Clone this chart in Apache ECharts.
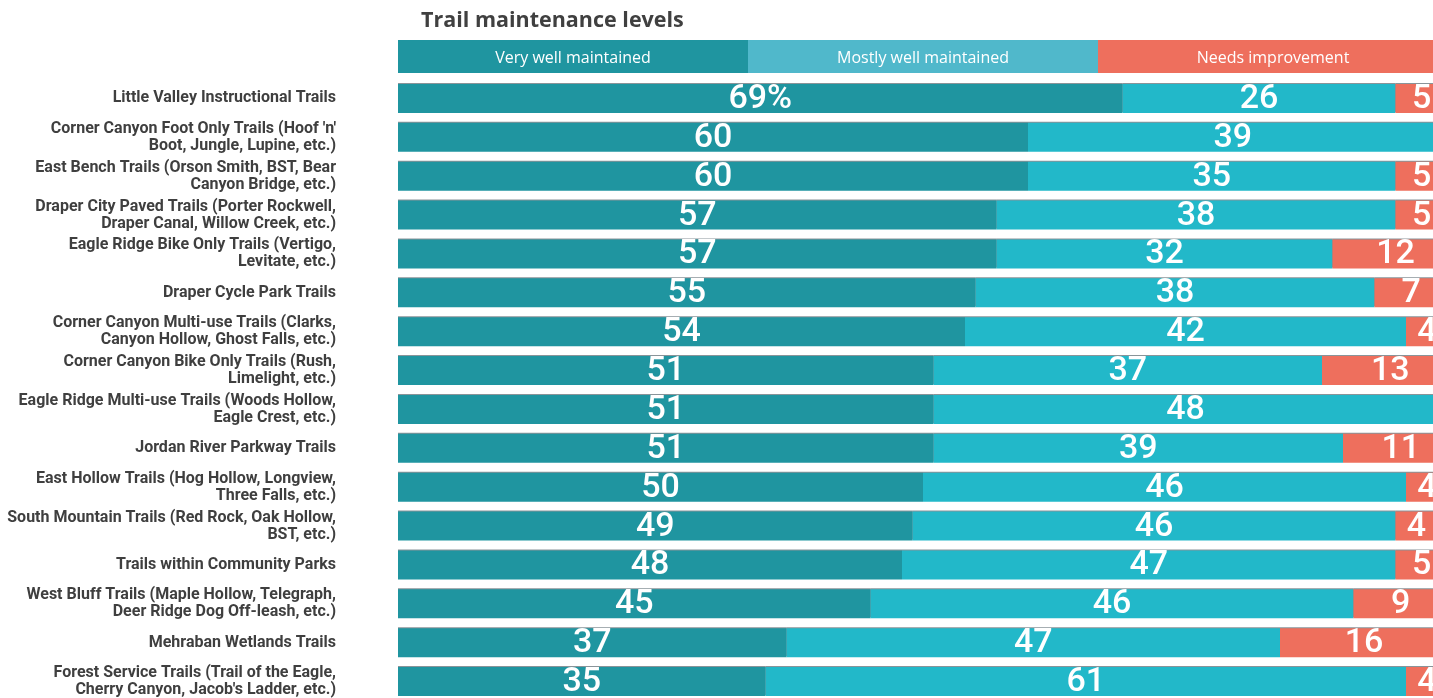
<!DOCTYPE html>
<html>
<head>
<meta charset="utf-8">
<script src="https://cdn.jsdelivr.net/npm/echarts@6/dist/echarts.min.js"></script>
<style>
  html, body { margin: 0; padding: 0; background: #ffffff; }
  #chart { width: 1433px; height: 698px; }
</style>
</head>
<body>
<div id="chart"></div>
<script>
// Trail names, top to bottom
const trails = [
  'Little Valley Instructional Trails',
  "Corner Canyon Foot Only Trails (Hoof 'n'\nBoot, Jungle, Lupine, etc.)",
  'East Bench Trails (Orson Smith, BST, Bear\nCanyon Bridge, etc.)',
  'Draper City Paved Trails (Porter Rockwell,\nDraper Canal, Willow Creek, etc.)',
  'Eagle Ridge Bike Only Trails (Vertigo,\nLevitate, etc.)',
  'Draper Cycle Park Trails',
  'Corner Canyon Multi-use Trails (Clarks,\nCanyon Hollow, Ghost Falls, etc.)',
  'Corner Canyon Bike Only Trails (Rush,\nLimelight, etc.)',
  'Eagle Ridge Multi-use Trails (Woods Hollow,\nEagle Crest, etc.)',
  'Jordan River Parkway Trails',
  'East Hollow Trails (Hog Hollow, Longview,\nThree Falls, etc.)',
  'South Mountain Trails (Red Rock, Oak Hollow,\nBST, etc.)',
  'Trails within Community Parks',
  'West Bluff Trails (Maple Hollow, Telegraph,\nDeer Ridge Dog Off-leash, etc.)',
  'Mehraban Wetlands Trails',
  "Forest Service Trails (Trail of the Eagle,\nCherry Canyon, Jacob's Ladder, etc.)"
];

// Percent of respondents per rating
const veryWell   = [69, 60, 60, 57, 57, 55, 54, 51, 51, 51, 50, 49, 48, 45, 37, 35];
const mostlyWell = [26, 39, 35, 38, 32, 38, 42, 37, 48, 39, 46, 46, 47, 46, 47, 61];
const needsImpr  = [5, 1, 5, 5, 12, 7, 4, 13, 1, 11, 4, 4, 5, 9, 16, 4];

const ratingNames = ['Very well maintained', 'Mostly well maintained', 'Needs improvement'];
const barColors = ['#1f95a0', '#22b8c9', '#ee6f5d'];
const headerColors = ['#1f95a0', '#50b8cb', '#ee6f5d'];

const chart = echarts.init(document.getElementById('chart'), null, { renderer: 'canvas' });

const valueLabel = (withPercentFirst) => ({
  show: true,
  position: 'inside',
  offset: [0, 1],
  color: '#ffffff',
  fontFamily: 'Roboto',
  fontWeight: 500,
  fontSize: 34,
  formatter: (p) => {
    if (p.value < 3) return '';
    return (withPercentFirst && p.dataIndex === 0) ? p.value + '%' : String(p.value);
  }
});

const barShadow = {
  shadowColor: 'rgba(40,60,70,0.55)',
  shadowBlur: 0,
  shadowOffsetY: -1
};

const dataSeries = [veryWell, mostlyWell, needsImpr].map((vals, i) => ({
  name: ratingNames[i],
  type: 'bar',
  stack: 'rating',
  xAxisIndex: 0,
  yAxisIndex: 0,
  barWidth: 29,
  clip: false,
  data: vals,
  itemStyle: Object.assign({ color: barColors[i] }, barShadow),
  label: valueLabel(i === 0),
  emphasis: { disabled: true },
  silent: true,
  animation: false
}));

// Header strip: one equal block per rating, each carrying its name
const headerSeries = ratingNames.map((name, i) => ({
  name: name + ' header',
  type: 'bar',
  stack: 'header',
  xAxisIndex: 1,
  yAxisIndex: 1,
  barWidth: '100%',
  clip: false,
  data: [100 / 3],
  itemStyle: { color: headerColors[i] },
  label: {
    show: true,
    position: 'inside',
    offset: [0, 2],
    color: '#ffffff',
    fontFamily: 'Open Sans',
    fontSize: 16,
    formatter: () => name
  },
  silent: true,
  animation: false
}));

// The plot runs a little past the right edge of the page, so grids are
// laid out without being pulled back inside the canvas.
chart.setOption({
  animation: false,
  title: {
    text: 'Trail maintenance levels',
    left: 416,
    top: 5,
    textStyle: {
      fontFamily: 'Open Sans',
      fontWeight: 'bold',
      fontSize: 21.5,
      color: '#404040'
    }
  },
  grid: [
    { left: 398, width: 1050, top: 79, height: 622, containLabel: false, outerBoundsMode: 'none' },
    { left: 398, width: 1050, top: 40, height: 33, containLabel: false, outerBoundsMode: 'none' }
  ],
  xAxis: [
    { type: 'value', gridIndex: 0, min: 0, max: 100, show: false },
    { type: 'value', gridIndex: 1, min: 0, max: 100, show: false }
  ],
  yAxis: [
    {
      type: 'category',
      gridIndex: 0,
      inverse: true,
      data: trails,
      axisLine: { show: false },
      axisTick: { show: false },
      axisLabel: {
        margin: 62,
        color: '#3f3f3f',
        fontFamily: 'Roboto',
        fontWeight: 'bold',
        fontSize: 16,
        lineHeight: 17,
        align: 'right'
      }
    },
    {
      type: 'category',
      gridIndex: 1,
      data: ['header'],
      show: false
    }
  ],
  series: dataSeries.concat(headerSeries)
});
</script>
</body>
</html>
